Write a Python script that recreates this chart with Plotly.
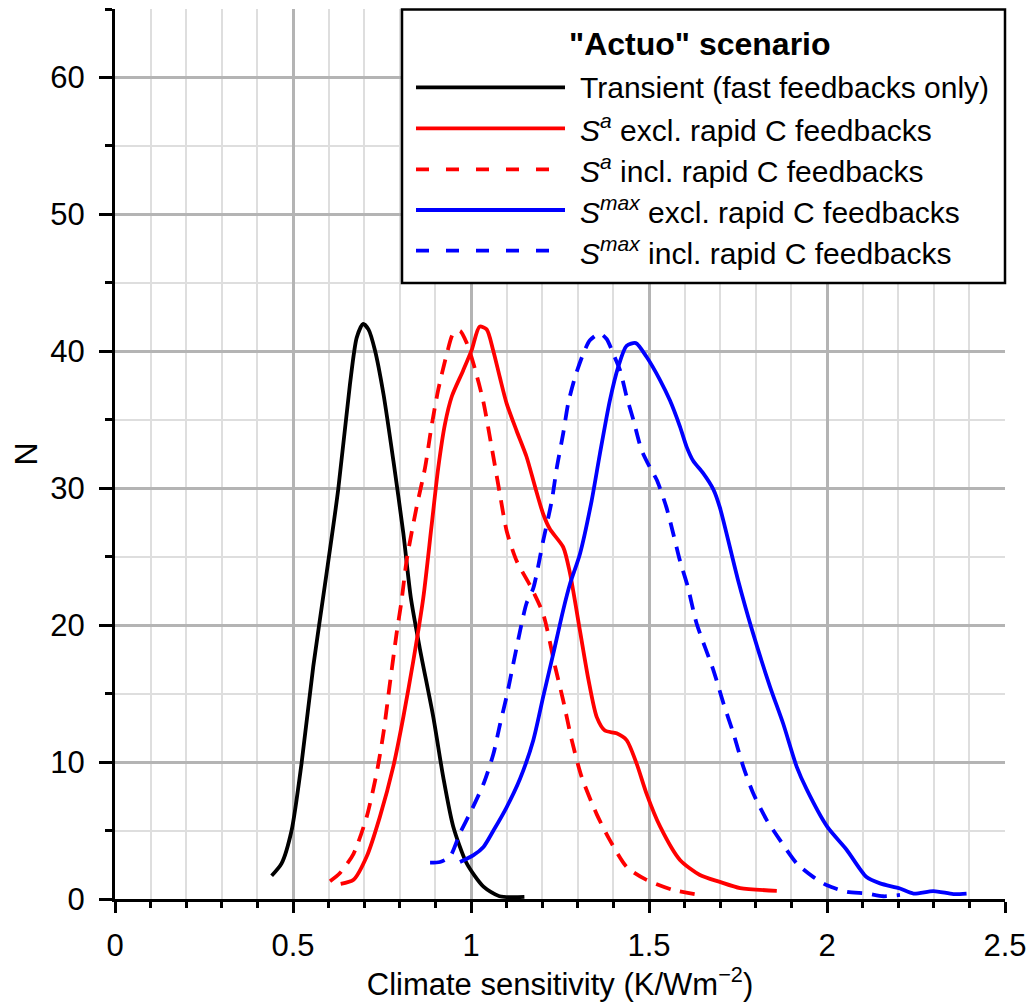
import plotly.graph_objects as go

# ---------------- data ----------------
transient_x = [0.440, 0.468, 0.496, 0.524, 0.557, 0.590, 0.627, 0.660, 0.679, 0.697, 0.712, 0.730,
               0.754, 0.782, 0.810, 0.831, 0.857, 0.894, 0.922, 0.950, 0.988, 1.035, 1.08, 1.15]
transient_y = [1.7, 2.6, 5.0, 9.9, 17.0, 23.0, 29.9, 37.6, 41.0, 42.0, 41.6, 40.1,
               36.9, 32.0, 26.7, 22.0, 18.2, 13.3, 8.9, 5.3, 2.6, 0.9, 0.2, 0.15]

sa_excl_x = [0.634, 0.670, 0.707, 0.744, 0.782, 0.810, 0.838, 0.866, 0.889, 0.908, 0.927, 0.946,
             0.978, 1.002, 1.024, 1.044, 1.062, 1.081, 1.100, 1.128, 1.156, 1.180, 1.203, 1.222,
             1.259, 1.278, 1.306, 1.330, 1.353, 1.376, 1.409, 1.437, 1.465, 1.493, 1.531, 1.587,
             1.643, 1.699, 1.756, 1.859]
sa_excl_y = [1.1, 1.4, 3.1, 6.0, 9.7, 13.3, 17.4, 22.0, 27.2, 31.5, 34.7, 36.7,
             38.6, 40.1, 41.8, 41.6, 40.1, 38.1, 36.2, 34.2, 32.3, 30.1, 28.1, 27.0,
             25.7, 23.8, 19.6, 16.0, 13.3, 12.3, 12.1, 11.6, 9.9, 7.7, 5.3, 2.85,
             1.75, 1.25, 0.8, 0.6]

sa_incl_x = [0.604, 0.632, 0.670, 0.707, 0.735, 0.754, 0.772, 0.791, 0.805, 0.819, 0.847, 0.871,
             0.889, 0.908, 0.932, 0.950, 0.969, 0.988, 1.008, 1.034, 1.058, 1.081, 1.100, 1.128,
             1.168, 1.203, 1.236, 1.259, 1.283, 1.311, 1.353, 1.390, 1.437, 1.493, 1.568, 1.643]
sa_incl_y = [1.3, 1.9, 3.3, 6.0, 9.2, 12.1, 15.7, 19.4, 21.8, 24.7, 28.6, 31.5,
             34.5, 37.2, 39.8, 41.3, 41.5, 40.6, 39.0, 36.4, 33.0, 29.6, 26.9, 24.7,
             22.8, 20.8, 17.0, 14.5, 11.6, 8.9, 6.2, 4.3, 2.35, 1.4, 0.66, 0.3]

smax_excl_x = [0.969, 1.007, 1.035, 1.063, 1.100, 1.138, 1.175, 1.203, 1.231, 1.259, 1.278, 1.306,
               1.339, 1.362, 1.390, 1.414, 1.437, 1.463, 1.493, 1.531, 1.559, 1.587, 1.606, 1.624,
               1.652, 1.681, 1.699, 1.750, 1.790, 1.840, 1.877, 1.915, 1.943, 2.000, 2.055, 2.111,
               2.149, 2.205, 2.243, 2.299, 2.355, 2.392]
smax_excl_y = [2.7, 3.2, 3.8, 5.0, 6.7, 8.8, 11.6, 14.8, 17.9, 21.1, 23.0, 25.2,
               29.1, 32.5, 36.4, 38.9, 40.4, 40.6, 39.6, 37.9, 36.4, 34.5, 33.0, 32.0,
               31.1, 29.9, 28.6, 23.3, 19.6, 15.5, 12.8, 9.65, 8.0, 5.3, 3.6, 1.6,
               1.14, 0.77, 0.4, 0.58, 0.36, 0.4]

smax_incl_x = [0.885, 0.913, 0.941, 0.969, 0.997, 1.035, 1.063, 1.081, 1.100, 1.119, 1.138, 1.156,
               1.175, 1.203, 1.227, 1.241, 1.259, 1.273, 1.292, 1.315, 1.334, 1.362, 1.381, 1.400,
               1.419, 1.437, 1.456, 1.479, 1.503, 1.522, 1.549, 1.568, 1.587, 1.608, 1.634, 1.681,
               1.709, 1.737, 1.765, 1.793, 1.830, 1.868, 1.915, 1.962, 2.000, 2.055, 2.111, 2.158,
               2.205]
smax_incl_y = [2.65, 2.7, 3.1, 4.8, 6.25, 8.4, 10.6, 12.7, 14.8, 17.2, 19.6, 21.6,
               22.7, 26.2, 29.1, 31.5, 34.0, 36.2, 38.1, 39.8, 40.8, 41.3, 40.9, 39.8,
               38.6, 36.7, 35.0, 32.8, 31.5, 30.6, 28.6, 26.7, 24.7, 22.9, 20.1, 16.7,
               14.3, 12.1, 9.65, 7.7, 5.8, 4.3, 2.6, 1.6, 1.0, 0.53, 0.4, 0.2,
               0.3]

legend_title = '<b>"Actuo" scenario</b>'
series_names = [
    "Transient (fast feedbacks only)",
    "<i>S</i><sup><i>a</i></sup> excl. rapid C feedbacks",
    "<i>S</i><sup><i>a</i></sup> incl. rapid C feedbacks",
    "<i>S</i><sup><i>max</i></sup> excl. rapid C feedbacks",
    "<i>S</i><sup><i>max</i></sup> incl. rapid C feedbacks",
]
series_colors = ["#000000", "#ff0000", "#ff0000", "#0000ff", "#0000ff"]
series_dash = ["solid", "solid", "15px,10px", "solid", "15px,10px"]

x_title = "Climate sensitivity (K/Wm<sup>−2</sup>)"
y_title = "N"

FONT = "Liberation Sans, Arial, sans-serif"

# ---------------- figure ----------------
# page has an 8px body margin; figure is sized so the page is 1034x1002
W, H = 1026, 994
ML, MR, MT, MB = 107, 29, 1, 103
PAGE_OFF = 8
PL, PR = ML + PAGE_OFF, W - MR + PAGE_OFF          # plot left/right in page pixels
PT, PB = MT + PAGE_OFF, H - MB + PAGE_OFF          # plot top/bottom in page pixels


def px(xp):
    return (xp - PL) / (PR - PL)


def py(yp):
    return (PB - yp) / (PB - PT)


fig = go.Figure()
all_x = [transient_x, sa_excl_x, sa_incl_x, smax_excl_x, smax_incl_x]
all_y = [transient_y, sa_excl_y, sa_incl_y, smax_excl_y, smax_incl_y]
for xs, ys, name, c, d in zip(all_x, all_y, series_names, series_colors, series_dash):
    fig.add_trace(go.Scatter(x=xs, y=ys, mode="lines", name=name,
                             line=dict(color=c, width=3.8, dash=d, shape="spline", smoothing=0.7),
                             showlegend=False))

# custom legend box (matches the reference's wide line samples)
shapes = [dict(type="rect", xref="paper", yref="paper",
               x0=px(402), x1=px(1005), y0=py(283), y1=py(9.5),
               fillcolor="white", line=dict(color="black", width=2.5), layer="above")]
row_y = [87.3, 128.3, 169.3, 210, 250.7]
annotations = [dict(text=legend_title, xref="paper", yref="paper", x=px(700), y=py(44),
                    xanchor="center", yanchor="middle", showarrow=False,
                    font=dict(family=FONT, size=32, color="black"))]
for ry, name, c, d in zip(row_y, series_names, series_colors, series_dash):
    x1 = 565 if d == "solid" else 549
    shapes.append(dict(type="line", xref="paper", yref="paper",
                       x0=px(416), x1=px(x1), y0=py(ry), y1=py(ry),
                       line=dict(color=c, width=3.8, dash="solid" if d == "solid" else "13px,17px"),
                       layer="above"))
    annotations.append(dict(text=name, xref="paper", yref="paper", x=px(578), y=py(ry),
                            xanchor="left", yanchor="middle", showarrow=False,
                            font=dict(family=FONT, size=30, color="black")))

fig.update_layout(
    width=W, height=H,
    margin=dict(l=ML, r=MR, t=MT, b=MB, pad=0, autoexpand=False),
    paper_bgcolor="white", plot_bgcolor="white",
    font=dict(family=FONT, size=31, color="black"),
    shapes=shapes, annotations=annotations,
    showlegend=False,
)
fig.update_xaxes(
    range=[0, 2.5], dtick=0.5, tick0=0,
    showgrid=True, gridcolor="#b4b4b4", gridwidth=2.5,
    showline=True, linecolor="black", linewidth=3, zeroline=False,
    ticks="outside", ticklen=11, tickwidth=2.5, tickcolor="black",
    ticklabelstandoff=6,
    minor=dict(dtick=0.1, showgrid=True, gridcolor="#dedede", gridwidth=1.5,
               ticks="outside", ticklen=6, tickwidth=2.5, tickcolor="black"),
    title=dict(text=x_title, font=dict(family=FONT, size=31), standoff=0),
    tickfont=dict(family=FONT, size=31),
    automargin=False,
)
fig.update_yaxes(
    range=[0, 65], dtick=10, tick0=0,
    showgrid=True, gridcolor="#b4b4b4", gridwidth=2.5,
    showline=True, linecolor="black", linewidth=3, zeroline=False,
    ticks="outside", ticklen=13, tickwidth=2.5, tickcolor="black",
    ticklabelstandoff=8,
    minor=dict(dtick=5, showgrid=True, gridcolor="#dedede", gridwidth=1.5,
               ticks="outside", ticklen=7, tickwidth=2.5, tickcolor="black"),
    title=dict(text=y_title, font=dict(family=FONT, size=32), standoff=16),
    tickfont=dict(family=FONT, size=31),
    automargin=False,
)

fig.write_html("out.html")
